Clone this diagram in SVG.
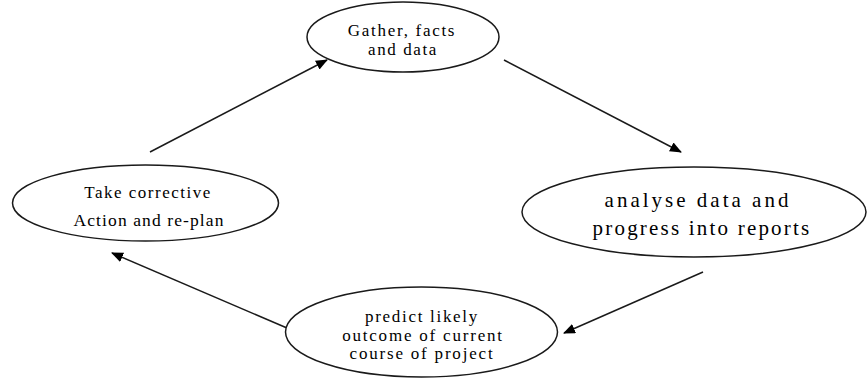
<svg xmlns="http://www.w3.org/2000/svg" width="868" height="379" viewBox="0 0 868 379">
  <defs>
    <marker id="arrow" viewBox="0 0 12 10" refX="11" refY="5" markerWidth="12" markerHeight="10" markerUnits="userSpaceOnUse" orient="auto">
      <path d="M0,0 L12,5 L0,10 Z" fill="#000"/>
    </marker>
  </defs>
  <rect width="868" height="379" fill="#ffffff"/>

  <!-- cycle arrows -->
  <g id="connectors" stroke="#1a1a1a" stroke-width="1.5" fill="none" marker-end="url(#arrow)">
    <line x1="150" y1="152" x2="327" y2="60"/>
    <line x1="504" y1="60" x2="681" y2="152"/>
    <line x1="703" y1="272" x2="564" y2="333"/>
    <line x1="287" y1="328" x2="112" y2="253"/>
  </g>

  <g id="gather">
    <ellipse cx="403" cy="37" rx="96" ry="35" fill="#ffffff" stroke="#1a1a1a" stroke-width="1.5"/>
    <text x="402" y="36" font-family="Liberation Serif" font-size="17" text-anchor="middle" letter-spacing="1.7">Gather, facts</text>
    <text x="403" y="55" font-family="Liberation Serif" font-size="17" text-anchor="middle" letter-spacing="1.6">and data</text>
  </g>

  <g id="analyse">
    <ellipse cx="694" cy="212" rx="172" ry="45" fill="#ffffff" stroke="#1a1a1a" stroke-width="1.5"/>
    <text x="698" y="207" font-family="Liberation Serif" font-size="21" text-anchor="middle" letter-spacing="3">analyse data and</text>
    <text x="702" y="235" font-family="Liberation Serif" font-size="21" text-anchor="middle" letter-spacing="2.2">progress into  reports</text>
  </g>

  <g id="predict">
    <ellipse cx="421.5" cy="332" rx="136" ry="45" fill="#ffffff" stroke="#1a1a1a" stroke-width="1.5"/>
    <text x="422" y="322" font-family="Liberation Serif" font-size="17" text-anchor="middle" letter-spacing="1.7">predict likely</text>
    <text x="423" y="341" font-family="Liberation Serif" font-size="17" text-anchor="middle" letter-spacing="1.8">outcome of current</text>
    <text x="422" y="359" font-family="Liberation Serif" font-size="17" text-anchor="middle" letter-spacing="1.8">course of project</text>
  </g>

  <g id="corrective">
    <ellipse cx="145.5" cy="203" rx="133" ry="38" fill="#ffffff" stroke="#1a1a1a" stroke-width="1.5"/>
    <text x="148" y="198" font-family="Liberation Serif" font-size="17" text-anchor="middle" letter-spacing="1.5">Take corrective</text>
    <text x="149" y="226" font-family="Liberation Serif" font-size="17.5" text-anchor="middle" letter-spacing="1.1">Action and re-plan</text>
  </g>
</svg>
